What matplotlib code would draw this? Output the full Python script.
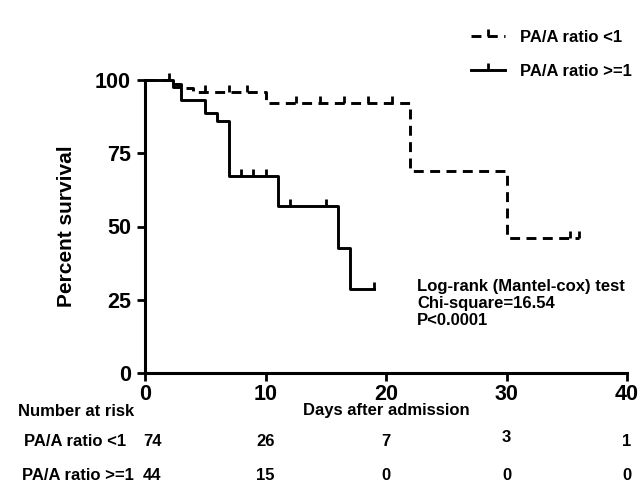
import matplotlib
matplotlib.use("Agg")
import matplotlib.pyplot as plt
import matplotlib.transforms as mtransforms
from matplotlib.lines import Line2D

plt.rcParams['font.family'] = ['Liberation Sans', 'DejaVu Sans']
plt.rcParams['font.weight'] = 'bold'

# Kaplan-Meier step data (days, percent survival)
low_times = [0, 2.5, 3, 4, 10, 22, 30, 36]
low_surv = [100, 98.6, 97.2, 95.9, 92.1, 69.1, 46.0, 46.0]
low_cens_t = [5, 7, 8.5, 12.5, 14.5, 16.5, 18.5, 20.5, 35.3, 36]
low_cens_s = [95.9, 95.9, 95.9, 92.1, 92.1, 92.1, 92.1, 92.1, 46.0, 46.0]

high_times = [0, 2.3, 3, 5, 6, 7, 11, 16, 17, 19]
high_surv = [100, 97.7, 93.2, 88.6, 85.9, 67.4, 57.0, 42.8, 28.5, 28.5]
high_cens_t = [2, 8, 9, 10, 12, 15, 19]
high_cens_s = [100, 67.4, 67.4, 67.4, 57.0, 57.0, 28.5]

labels = ['PA/A ratio <1', 'PA/A ratio >=1']
xticks = [0, 10, 20, 30, 40]
yticks = [0, 25, 50, 75, 100]
risk_low = [74, 26, 7, 3, 1]
risk_high = [44, 15, 0, 0, 0]

W, H = 640, 487
fig = plt.figure(figsize=(6.4, 4.87), dpi=100)
ax = fig.add_axes([145 / W, 1 - 373 / H, (627 - 145) / W, (373 - 80) / H])

lw = 2.1
dash = (3.4, 2.2)
ax.step(low_times, low_surv, where='post', color='black', lw=lw,
        dashes=dash, clip_on=False)
ax.plot(low_cens_t, low_cens_s, ls='none', marker=2, ms=5, mew=2.0,
        color='black', clip_on=False)
ax.step(high_times, high_surv, where='post', color='black', lw=lw,
        clip_on=False)
ax.plot(high_cens_t, high_cens_s, ls='none', marker=2, ms=5, mew=2.0,
        color='black', clip_on=False)

h1 = Line2D([], [], color='black', lw=lw, dashes=dash, marker=2,
            ms=5, mew=2.0)
h2 = Line2D([], [], color='black', lw=lw, marker=2, ms=5, mew=2.0)
fig.legend([h1, h2], labels, loc='upper left',
           bbox_to_anchor=(463 / W, 1 - 22 / H), frameon=False,
           prop={'size': 12, 'weight': 'bold'}, handlelength=2.0,
           labelspacing=1.1, handletextpad=0.9, borderpad=0)

ax.set_xlim(0, 40)
ax.set_ylim(0, 100)
ax.set_xticks(xticks)
ax.set_yticks(yticks)
ax.tick_params(axis='both', labelsize=15.5, width=2, length=6)
ax.tick_params(axis='x', pad=2)
ax.tick_params(axis='y', pad=4)
for lab in ax.get_xticklabels() + ax.get_yticklabels():
    lab.set_fontweight('bold')
for s in ['top', 'right']:
    ax.spines[s].set_visible(False)
for s in ['left', 'bottom']:
    ax.spines[s].set_linewidth(2.2)

ax.set_ylabel('Percent survival', fontsize=15, fontweight='bold', labelpad=14)
fig.text(386 / W, 1 - 411 / H, 'Days after admission', ha='center',
         va='center', fontsize=12, fontweight='bold')
fig.text(18 / W, 1 - 411 / H, 'Number at risk', ha='left', va='center',
         fontsize=12, fontweight='bold')

ax.text(22.6, 32, 'Log-rank (Mantel-cox) test\nChi-square=16.54\nP<0.0001',
        ha='left', va='top', fontsize=12, fontweight='bold',
        linespacing=1.15)

trans = mtransforms.blended_transform_factory(ax.transData, fig.transFigure)
fig.text(75 / W, 1 - 441 / H, labels[0], ha='center', va='center',
         fontsize=12, fontweight='bold')
fig.text(78 / W, 1 - 476 / H, labels[1], ha='center', va='center',
         fontsize=12, fontweight='bold')
row_dy = [0, 0, 0, -4, 0]
for i, x in enumerate(xticks):
    dx = 0.6 if i == 0 else 0
    fig.text(x + dx, 1 - (441 + row_dy[i]) / H, str(risk_low[i]),
             transform=trans, ha='center', va='center', fontsize=12,
             fontweight='bold')
    fig.text(x + dx, 1 - 476 / H, str(risk_high[i]), transform=trans,
             ha='center', va='center', fontsize=12, fontweight='bold')

fig.savefig('out.png', dpi=100)
